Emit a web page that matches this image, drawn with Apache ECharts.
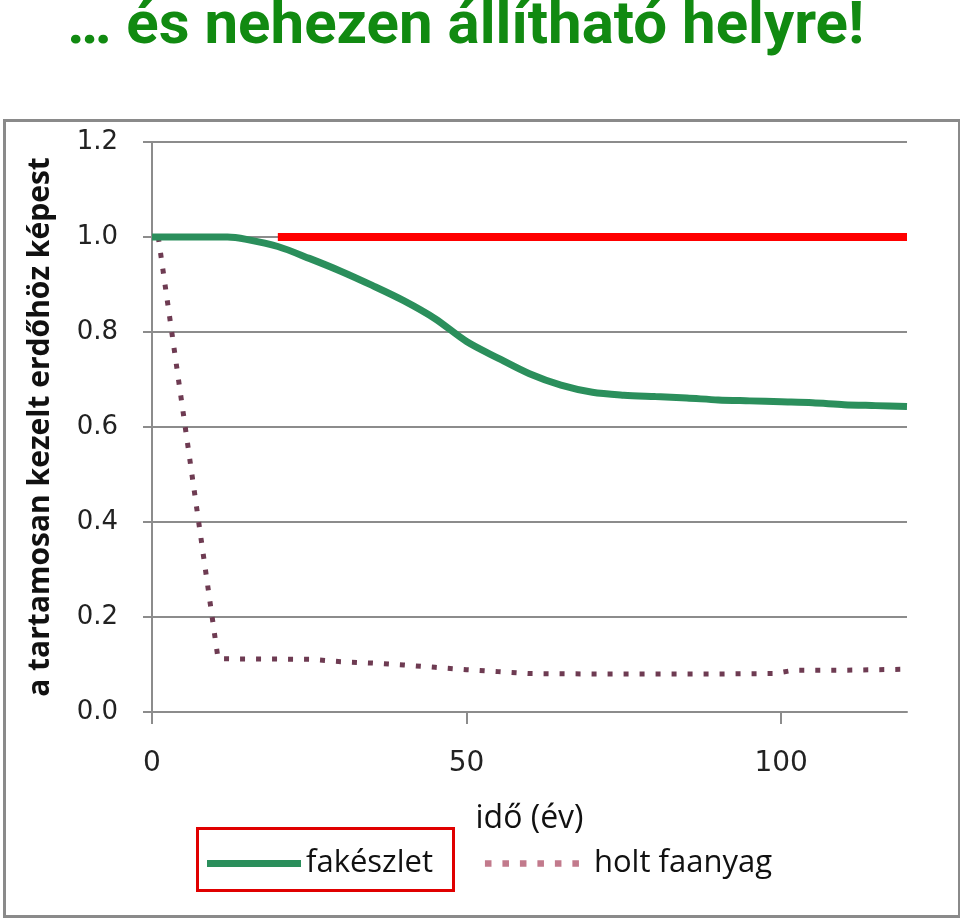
<!DOCTYPE html>
<html>
<head>
<meta charset="utf-8">
<script src="https://cdn.jsdelivr.net/npm/echarts@6/dist/echarts.min.js"></script>
<style>
    html, body { margin: 0; padding: 0; background: #fff; }
    #chart { width: 960px; height: 919px; }
</style>
</head>
<body>
<div id="chart"></div>
<script>
// 数据
var fakeszletX = [0, 5, 10, 12, 15, 20, 25, 30, 35, 40, 45, 50, 55, 60, 65, 70, 75, 80, 85, 90, 95, 100, 105, 110, 115, 120];
var fakeszletY = [1.0, 1.0, 1.0, 1.0, 0.995, 0.98, 0.955, 0.928, 0.898, 0.866, 0.828, 0.78, 0.745, 0.712, 0.688, 0.673, 0.667, 0.664, 0.661, 0.657, 0.655, 0.653, 0.651, 0.647, 0.645, 0.643];

var holtX = [1, 10.5, 25, 30, 35, 40, 45, 50, 55, 60, 70, 80, 90, 99, 102, 110, 120];
var holtY = [1.0, 0.112, 0.111, 0.106, 0.103, 0.099, 0.094, 0.089, 0.085, 0.081, 0.08, 0.08, 0.08, 0.081, 0.088, 0.088, 0.09];

var referenciaX = [20, 120];
var referenciaY = [1.0, 1.0];

var xTicks = [0, 50, 100];

function pairs(xs, ys) {
    return xs.map((x, i) => [x, ys[i]]);
}

var chart = echarts.init(document.getElementById('chart'));

var gridColor = '#8c8c8c';
// 图例里的点线图标（6个小方块）
var dotsIcon = 'path://M0,0h6v6h-6z M16,0h6v6h-6z M32,0h6v6h-6z M48,0h6v6h-6z M64,0h6v6h-6z M80,0h6v6h-6z';

var option = {
    animation: false,
    title: {
        text: '… és nehezen állítható helyre!',
        left: 62,
        top: -7,
        textStyle: {
            fontFamily: 'Roboto, sans-serif',
            fontWeight: 'bold',
            fontSize: 60,
            color: '#118a11'
        }
    },
    grid: {
        left: 152,
        right: 53,
        top: 142,
        bottom: 207
    },
    legend: {
        left: 202,
        top: 843,
        itemWidth: 94,
        itemHeight: 7,
        itemGap: 52,
        data: [
            { name: 'fakészlet', icon: 'rect' },
            { name: 'holt faanyag', icon: dotsIcon, textStyle: { padding: [0, 0, 0, 10] } }
        ],
        textStyle: {
            fontFamily: '"Open Sans", sans-serif',
            fontSize: 31,
            color: '#111'
        }
    },
    xAxis: {
        type: 'value',
        min: 0,
        max: 120,
        interval: 50,
        name: 'idő (év)',
        nameLocation: 'middle',
        nameGap: 91,
        nameTextStyle: {
            fontFamily: '"Open Sans", sans-serif',
            fontSize: 32,
            color: '#111'
        },
        axisLine: { lineStyle: { color: gridColor, width: 2 } },
        axisTick: {
            customValues: xTicks,
            length: 12,
            lineStyle: { color: gridColor, width: 2 }
        },
        axisLabel: {
            customValues: xTicks,
            margin: 38,
            fontFamily: '"DejaVu Sans", sans-serif',
            fontSize: 28,
            color: '#222'
        },
        splitLine: { show: false }
    },
    yAxis: {
        type: 'value',
        min: 0,
        max: 1.2,
        interval: 0.2,
        name: 'a tartamosan kezelt erdőhöz képest',
        nameLocation: 'middle',
        nameRotate: 90,
        nameGap: 97,
        nameTextStyle: {
            fontFamily: '"Open Sans", sans-serif',
            fontWeight: 'bold',
            fontSize: 30,
            color: '#111'
        },
        axisLine: { show: true, lineStyle: { color: gridColor, width: 2 } },
        axisTick: { show: true, length: 9, lineStyle: { color: gridColor, width: 2 } },
        axisLabel: {
            margin: 34,
            fontFamily: '"DejaVu Sans", sans-serif',
            fontSize: 26,
            color: '#222',
            formatter: v => v.toFixed(1)
        },
        splitLine: { lineStyle: { color: gridColor, width: 2 } }
    },
    series: [
        {
            name: 'holt faanyag',
            type: 'line',
            symbol: 'none',
            data: pairs(holtX, holtY),
            lineStyle: { color: '#6e3b52', width: 5, type: [5, 11] },
            itemStyle: { color: '#c27a8c' }
        },
        {
            name: 'fakészlet',
            type: 'line',
            symbol: 'none',
            smooth: 0.3,
            data: pairs(fakeszletX, fakeszletY),
            lineStyle: { color: '#2b8f5c', width: 7 },
            itemStyle: { color: '#2b8f5c' }
        },
        {
            name: 'referencia',
            type: 'line',
            symbol: 'none',
            data: pairs(referenciaX, referenciaY),
            lineStyle: { color: '#ff0000', width: 8 },
            itemStyle: { color: '#ff0000' }
        }
    ],
    graphic: [
        {
            type: 'rect',
            left: 2,
            top: 118,
            shape: { width: 955, height: 796 },
            style: { fill: 'none', stroke: '#8a8a8a', lineWidth: 3 }
        },
        {
            type: 'rect',
            left: 195,
            top: 826,
            shape: { width: 256, height: 62 },
            style: { fill: 'none', stroke: '#e00000', lineWidth: 3 }
        }
    ]
};

chart.setOption(option);
</script>
</body>
</html>
